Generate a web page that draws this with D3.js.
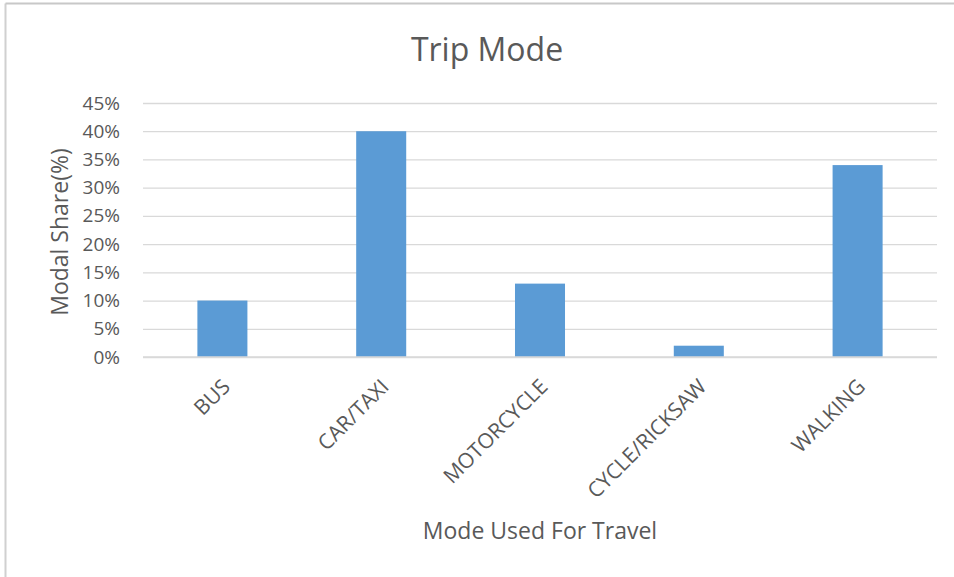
<!DOCTYPE html>
<html>
<head>
<meta charset="utf-8">
<script src="https://cdn.jsdelivr.net/npm/d3@7"></script>
<style>
  html, body { margin: 0; padding: 0; background: #fff; }
  svg { display: block; font-family: "Open Sans", sans-serif; }
</style>
</head>
<body>
<svg id="chart" width="954" height="577"></svg>
<script>
const categories = ["BUS", "CAR/TAXI", "MOTORCYCLE", "CYCLE/RICKSAW", "WALKING"];
const values = [10, 40, 13, 2, 34];
const yTicks = [0, 5, 10, 15, 20, 25, 30, 35, 40, 45];
const title = "Trip Mode";
const xTitle = "Mode Used For Travel";
const yTitle = "Modal Share(%)";

const W = 954, H = 577;
const margin = { left: 143, right: 17, top: 103, bottom: 220 };
const svg = d3.select("#chart");
const textColor = "#595959";

// border (top & left only visible)
svg.append("line").attr("x1", 5.5).attr("x2", 5.5).attr("y1", 3.5).attr("y2", H).attr("stroke", "#d0d0d0").attr("stroke-width", 2);
svg.append("line").attr("x1", 5.5).attr("x2", W).attr("y1", 3.5).attr("y2", 3.5).attr("stroke", "#c8c8c8").attr("stroke-width", 2);

const x = d3.scaleBand().domain(categories).range([margin.left, W - margin.right]).padding(0);
const y = d3.scaleLinear().domain([0, 45]).range([H - margin.bottom, margin.top]);

// gridlines
const yAxis = d3.axisLeft(y).tickValues(yTicks).tickSize(-(W - margin.right - margin.left)).tickFormat(d => d + "%").tickPadding(23);
const gy = svg.append("g").attr("transform", `translate(${margin.left},0)`).call(yAxis);
gy.select(".domain").remove();
gy.selectAll(".tick line").attr("stroke", "#d9d9d9").attr("stroke-width", 1.3);
gy.selectAll(".tick text").attr("fill", textColor).style("font-size", "19px").style("font-family", "'Open Sans', sans-serif");

// bars
const barW = x.bandwidth() * 0.315;
svg.append("g").selectAll("rect").data(values).join("rect")
  .attr("x", (d, i) => x(categories[i]) + x.bandwidth() / 2 - barW / 2)
  .attr("y", d => y(d))
  .attr("width", barW)
  .attr("height", d => y(0) - y(d))
  .attr("fill", "#5b9bd5");

// x axis labels
const xAxis = d3.axisBottom(x).tickSize(0).tickPadding(0);
const gx = svg.append("g").attr("transform", `translate(0,${y(0)})`).call(xAxis);
gx.select(".domain").remove();
gx.selectAll(".tick text")
  .attr("fill", textColor)
  .style("font-size", "21px")
  .style("font-family", "'Open Sans', sans-serif")
  .attr("text-anchor", "end")
  .attr("dy", null)
  .attr("transform", "translate(9,31) rotate(-45)")
  .attr("x", 0).attr("y", 0);

// baseline
svg.append("line").attr("x1", margin.left).attr("x2", W - margin.right).attr("y1", y(0)).attr("y2", y(0)).attr("stroke", "#d9d9d9").attr("stroke-width", 1.3);

// title
svg.append("text").attr("x", 487).attr("y", 61).attr("text-anchor", "middle")
  .attr("fill", textColor).style("font-size", "32px").text(title);

// axis titles
svg.append("text").attr("x", 540).attr("y", 539).attr("text-anchor", "middle")
  .attr("fill", textColor).style("font-size", "23px").text(xTitle);
svg.append("text").attr("transform", `translate(68,232) rotate(-90)`).attr("text-anchor", "middle")
  .attr("fill", textColor).style("font-size", "23px").text(yTitle);
</script>
</body>
</html>
